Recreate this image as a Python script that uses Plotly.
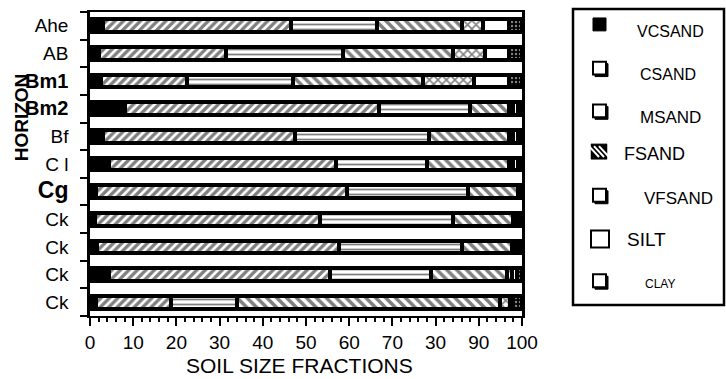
import plotly.graph_objects as go

# ---------------- data ----------------
horizons = ["Ahe", "AB", "Bm1", "Bm2", "Bf", "C l", "Cg", "Ck", "Ck", "Ck", "Ck"]
vcsand = [3, 2, 2.5, 8, 3, 4.5, 1.5, 1.2, 1.7, 4.3, 1.3]
csand = [43.5, 29.5, 20, 59, 44.5, 52.5, 58, 52, 56, 51.2, 17.5]
msand = [20, 27, 24.5, 21, 31, 21, 28, 30.8, 28.3, 23.5, 15.2]
fsand = [19.5, 25.5, 30, 9, 18.5, 19, 11.5, 14, 11.6, 17.5, 61]
vfsand = [5, 7.5, 12, 1, 1, 1, 0, 0.5, 0.8, 1.2, 2.2]
silt = [6, 5.5, 8, 1, 1, 1, 0, 0.5, 0.6, 1.2, 0.8]
clay = [3, 3, 3, 1, 1, 1, 1, 1, 1, 1.1, 2]

series_names = ["VCSAND", "CSAND", "MSAND", "FSAND", "VFSAND", "SILT", "CLAY"]
series_values = [vcsand, csand, msand, fsand, vfsand, silt, clay]

x_tick_values = [0, 10, 20, 30, 40, 50, 60, 70, 80, 90, 100]
x_tick_labels = ["0", "10", "20", "30", "40", "50", "60", "70", "30", "90", "100"]

# ---------------- styles ----------------
FONT = "Liberation Sans, Arial, sans-serif"
patterns = [
    dict(shape=""),
    dict(shape="/", size=6, solidity=0.55, fgcolor="black", bgcolor="white"),
    dict(shape="-", size=5, solidity=0.35, fgcolor="black", bgcolor="white"),
    dict(shape="\\", size=7, solidity=0.5, fgcolor="black", bgcolor="white"),
    dict(shape="x", size=6, solidity=0.45, fgcolor="black", bgcolor="white"),
    dict(shape=""),
    dict(shape=".", size=4, solidity=0.3, fgcolor="white", bgcolor="black"),
]
colors = ["black", "white", "white", "white", "white", "white", "black"]

ypos = list(range(len(horizons)))

fig = go.Figure()
for name, vals, pat, col in zip(series_names, series_values, patterns, colors):
    fig.add_trace(go.Bar(
        orientation="h", x=vals, y=ypos, name=name, width=0.46,
        marker=dict(color=col, line=dict(color="black", width=4), pattern=pat),
        showlegend=False,
    ))

label_style = {"Bm1": (20, True), "Bm2": (20, True), "Cg": (23, True)}
ticktext = []
for h in horizons:
    size, bold = label_style.get(h, (19, False))
    t = f"<span style='font-size:{size}px'>{h}</span>"
    if bold:
        t = f"<b>{t}</b>"
    ticktext.append(t)

L, R, T, B = 90, 204, 10, 63
W, H = 726, 379
PW, PH = W - L - R, H - T - B


def px(xp):
    return (xp - L) / PW


def py(yp):
    return (H - B - yp) / PH


fig.update_layout(
    width=W, height=H, barmode="stack", bargap=0,
    margin=dict(l=L, r=R, t=T, b=B, pad=0),
    paper_bgcolor="white", plot_bgcolor="white",
    font=dict(family=FONT, color="black"),
)
fig.update_xaxes(
    range=[0, 100], tickmode="array", tickvals=x_tick_values, ticktext=x_tick_labels,
    ticks="outside", ticklen=8, tickwidth=2, tickcolor="black",
    minor=dict(tickmode="array", tickvals=[v for v in range(0, 101, 2) if v % 10],
               ticks="outside", ticklen=4, tickwidth=1.5, tickcolor="black"),
    showline=True, linewidth=2, linecolor="black", mirror=True,
    showgrid=False, zeroline=False, tickfont=dict(size=19, family=FONT),
)
fig.update_yaxes(
    range=[len(horizons) - 0.5, -0.5], tickmode="array", tickvals=ypos, ticktext=ticktext,
    ticks="", ticklabelstandoff=15,
    minor=dict(tickmode="array", tickvals=[i + 0.5 for i in range(-1, len(horizons))],
               ticks="outside", ticklen=7, tickwidth=2, tickcolor="black"),
    showline=True, linewidth=2.5, linecolor="black", mirror=True,
    showgrid=False, zeroline=False, tickfont=dict(size=19, family=FONT),
)

annotations = [
    dict(text="SOIL SIZE FRACTIONS", x=px(299), y=py(366), xref="paper", yref="paper",
         showarrow=False, font=dict(size=21, family=FONT), xanchor="center", yanchor="middle"),
    dict(text="<b>HORIZON</b>", x=px(21), y=py(116), xref="paper", yref="paper",
         showarrow=False, textangle=-90, font=dict(size=19, family=FONT),
         xanchor="center", yanchor="middle"),
]
shapes = [
    dict(type="rect", xref="paper", yref="paper", x0=px(573), x1=px(724), y0=py(7), y1=py(305),
         line=dict(color="black", width=2.5), fillcolor="white", layer="below"),
]

# legend (manual)
icon_y = [23, 67, 110, 151, 195, 239, 281]
text_y = [30, 73, 116, 153, 198, 239, 284]
text_x = [635, 638, 638, 622, 642, 625, 643]
text_size = [16, 16, 17, 18, 17, 19, 12]
for i, name in enumerate(series_names):
    cy = icon_y[i]
    x0, x1 = 593, 606
    y0, y1 = cy - 7, cy + 6
    if name == "VCSAND":
        shapes.append(dict(type="rect", xref="paper", yref="paper", x0=px(x0), x1=px(x1),
                           y0=py(y1), y1=py(y0), fillcolor="black", line=dict(color="black", width=1)))
    elif name == "FSAND":
        shapes.append(dict(type="rect", xref="paper", yref="paper", x0=px(x0 - 2), x1=px(x1 + 1),
                           y0=py(y1 + 1), y1=py(y0 - 1), fillcolor="black", line=dict(color="black", width=1)))
        for k in range(-1, 2):
            off = k * 5
            shapes.append(dict(type="line", xref="paper", yref="paper",
                               x0=px(x0 + 1 + off), x1=px(x1 - 2 + off), y0=py(y0 + 1), y1=py(y1 - 1),
                               line=dict(color="white", width=2)))
        shapes.append(dict(type="rect", xref="paper", yref="paper", x0=px(x1 + 1.5), x1=px(x1 + 12),
                           y0=py(y1 + 2), y1=py(y0 - 2), fillcolor="white", line=dict(width=0)))
        shapes.append(dict(type="rect", xref="paper", yref="paper", x0=px(x0 - 12), x1=px(x0 - 2.5),
                           y0=py(y1 + 2), y1=py(y0 - 2), fillcolor="white", line=dict(width=0)))
    elif name == "SILT":
        shapes.append(dict(type="rect", xref="paper", yref="paper", x0=px(x0 - 2), x1=px(x1 + 3),
                           y0=py(y1 + 2), y1=py(y0 - 2), fillcolor="white", line=dict(color="black", width=2)))
    else:
        shapes.append(dict(type="rect", xref="paper", yref="paper", x0=px(x0 + 2), x1=px(x1 + 2),
                           y0=py(y1 + 2), y1=py(y0 + 2), fillcolor="black", line=dict(color="black", width=1)))
        shapes.append(dict(type="rect", xref="paper", yref="paper", x0=px(x0), x1=px(x1),
                           y0=py(y1), y1=py(y0), fillcolor="white", line=dict(color="black", width=2)))
    annotations.append(dict(text=name, x=px(text_x[i]), y=py(text_y[i]), xref="paper", yref="paper",
                            showarrow=False, xanchor="left", yanchor="middle",
                            font=dict(size=text_size[i], family=FONT)))

fig.update_layout(annotations=annotations, shapes=shapes)
fig.write_html("out.html")
